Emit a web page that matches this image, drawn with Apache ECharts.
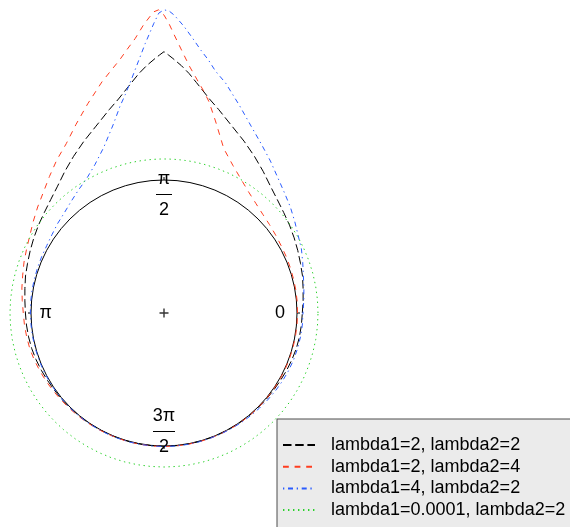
<!DOCTYPE html>
<html>
<head>
<meta charset="utf-8">
<script src="https://cdn.jsdelivr.net/npm/echarts@6/dist/echarts.min.js"></script>
<style>
  html, body { margin: 0; padding: 0; background: #ffffff; }
  #chart { width: 570px; height: 527px; }
</style>
</head>
<body>
<div id="chart"></div>
<script>
// Angles (degrees, counter-clockwise from 0) at which each density is evaluated
const angles = [
  0, 5, 10, 15, 20, 25, 30, 35, 40, 45, 50, 55, 60, 65, 70, 75,
  78, 80, 82, 84, 86, 88, 89, 90, 91, 92, 94, 96, 98, 100, 102,
  105, 110, 115, 120, 125, 130, 135, 140, 145, 150, 155, 160, 165, 170, 175, 180,
  185, 190, 195, 200, 205, 210, 215, 220, 225, 230, 235, 240, 245, 250, 255, 260, 265, 270,
  275, 280, 285, 290, 295, 300, 305, 310, 315, 320, 325, 330, 335, 340, 345, 350, 355, 360
];

// Density values for each parameter pair
const dens_2_2 = [
  0.040, 0.050, 0.062, 0.078, 0.092, 0.110, 0.130, 0.152, 0.175, 0.205, 0.245, 0.300, 0.360, 0.425, 0.495, 0.585,
  0.645, 0.695, 0.750, 0.810, 0.865, 0.915, 0.940, 0.965, 0.940, 0.915, 0.865, 0.810, 0.750, 0.695, 0.645,
  0.585, 0.495, 0.425, 0.360, 0.300, 0.245, 0.205, 0.175, 0.152, 0.130, 0.110, 0.092, 0.078, 0.062, 0.050, 0.042,
  0.038, 0.034, 0.030, 0.024, 0.018, 0.012, 0.008, 0.006, 0.004, 0.003, 0.003, 0.002, 0.002, 0.002, 0.002, 0.002, 0.002, 0.002,
  0.002, 0.002, 0.002, 0.002, 0.002, 0.002, 0.003, 0.003, 0.004, 0.006, 0.008, 0.012, 0.018, 0.024, 0.030, 0.034, 0.037, 0.040
];
const dens_2_4 = [
  0.004, 0.005, 0.006, 0.007, 0.009, 0.012, 0.016, 0.024, 0.035, 0.050, 0.075, 0.110, 0.160, 0.225, 0.315, 0.495,
  0.625, 0.700, 0.775, 0.860, 0.970, 1.100, 1.175, 1.240, 1.280, 1.265, 1.175, 1.075, 1.000, 0.930, 0.875,
  0.800, 0.675, 0.565, 0.470, 0.405, 0.340, 0.283, 0.240, 0.200, 0.165, 0.140, 0.120, 0.100, 0.085, 0.070, 0.058,
  0.053, 0.048, 0.044, 0.037, 0.030, 0.024, 0.018, 0.013, 0.010, 0.008, 0.006, 0.005, 0.004, 0.004, 0.004, 0.004, 0.004, 0.004,
  0.004, 0.004, 0.004, 0.004, 0.004, 0.004, 0.004, 0.004, 0.004, 0.004, 0.004, 0.004, 0.004, 0.004, 0.004, 0.004, 0.004, 0.004
];
const dens_4_2 = [
  0.045, 0.055, 0.068, 0.085, 0.110, 0.140, 0.165, 0.200, 0.240, 0.280, 0.330, 0.395, 0.465, 0.550, 0.660, 0.790,
  0.860, 0.930, 0.995, 1.075, 1.160, 1.240, 1.270, 1.280, 1.255, 1.180, 1.030, 0.890, 0.770, 0.670, 0.590,
  0.470, 0.325, 0.230, 0.165, 0.125, 0.090, 0.062, 0.045, 0.028, 0.017, 0.013, 0.010, 0.008, 0.007, 0.006, 0.005,
  0.004, 0.004, 0.004, 0.004, 0.004, 0.004, 0.004, 0.004, 0.004, 0.004, 0.004, 0.004, 0.004, 0.004, 0.004, 0.004, 0.004, 0.004,
  0.004, 0.004, 0.004, 0.004, 0.005, 0.006, 0.008, 0.010, 0.013, 0.017, 0.022, 0.027, 0.032, 0.036, 0.039, 0.042, 0.044, 0.045
];
const dens_00001_2 = [
  0.158, 0.158, 0.158, 0.158, 0.158, 0.158, 0.158, 0.158, 0.158, 0.158, 0.158, 0.158, 0.158, 0.158, 0.158, 0.158,
  0.158, 0.158, 0.158, 0.158, 0.158, 0.158, 0.158, 0.158, 0.158, 0.158, 0.158, 0.158, 0.158, 0.158, 0.158,
  0.158, 0.158, 0.158, 0.158, 0.158, 0.158, 0.158, 0.158, 0.158, 0.158, 0.158, 0.158, 0.158, 0.158, 0.158, 0.158,
  0.158, 0.158, 0.158, 0.158, 0.158, 0.158, 0.158, 0.158, 0.158, 0.158, 0.158, 0.158, 0.158, 0.158, 0.158, 0.158, 0.158, 0.158,
  0.158, 0.158, 0.158, 0.158, 0.158, 0.158, 0.158, 0.158, 0.158, 0.158, 0.158, 0.158, 0.158, 0.158, 0.158, 0.158, 0.158, 0.158
];

const seriesNames = [
  'lambda1=2, lambda2=2',
  'lambda1=2, lambda2=4',
  'lambda1=4, lambda2=2',
  'lambda1=0.0001, lambda2=2'
];
const seriesValues = [dens_2_2, dens_2_4, dens_4_2, dens_00001_2];
const seriesColors = ['#000000', '#ff3d1f', '#2a5cff', '#2bd12b'];
const seriesDash = [[8.5, 3.7], [5.8, 5.8], [1.3, 3.7, 5, 3.7], [1.4, 3.6]];

// Tick positions on the unit circle and their labels
const tickLabels = {
  0: '{r0|0}',
  90: '{n|π}\n{bar| }\n{d|2}',
  180: '{r180|π}',
  270: '{n|3π}\n{bar2| }\n{d|2}'
};

const center = [164, 313];
const unitRadius = 133;   // pixel radius of the reference circle
const radiusMax = 2.4;    // 1 + density at the outer edge of the curve polar

const chart = echarts.init(document.getElementById('chart'), null, { renderer: 'canvas' });

const curveSeries = seriesNames.map((name, k) => ({
  name: name,
  type: 'line',
  coordinateSystem: 'polar',
  polarIndex: 1,
  symbol: 'none',
  showSymbol: false,
  smooth: false,
  clip: false,
  data: angles.map((a, i) => [1 + seriesValues[k][i], a]),
  lineStyle: { color: seriesColors[k], width: 1, type: seriesDash[k] },
  itemStyle: { color: seriesColors[k] },
  z: 3
}));

chart.setOption({
  animation: false,
  backgroundColor: '#ffffff',
  textStyle: { fontFamily: 'Liberation Sans' },
  polar: [
    { center: center, radius: unitRadius },
    { center: center, radius: unitRadius * radiusMax }
  ],
  angleAxis: [
    {
      polarIndex: 0,
      type: 'value',
      min: 0, max: 360, interval: 90,
      startAngle: 0, clockwise: false,
      axisLine: { show: true, lineStyle: { color: '#000', width: 1 } },
      axisTick: { show: true, length: 3, lineStyle: { color: '#000', width: 1 } },
      splitLine: { show: false },
      axisLabel: {
        show: true,
        margin: -39,
        color: '#000',
        fontSize: 18,
        formatter: v => tickLabels[v] || '',
        rich: {
          r0: { fontSize: 18, padding: [0, 0, 0, 17] },
          r180: { fontSize: 18, padding: [0, 18, 0, 0] },
          n: { fontSize: 18, lineHeight: 18, align: 'center' },
          bar: { width: 16, height: 1, lineHeight: 13, fontSize: 1, backgroundColor: '#000', align: 'center' },
          bar2: { width: 22, height: 1, lineHeight: 13, fontSize: 1, backgroundColor: '#000', align: 'center' },
          d: { fontSize: 18, lineHeight: 18, align: 'center' }
        }
      }
    },
    {
      polarIndex: 1,
      type: 'value',
      min: 0, max: 360,
      startAngle: 0, clockwise: false,
      show: false
    }
  ],
  radiusAxis: [
    { polarIndex: 0, type: 'value', min: 0, max: 1, show: false },
    { polarIndex: 1, type: 'value', min: 0, max: radiusMax, show: false }
  ],
  legend: {
    orient: 'vertical',
    left: 277,
    top: 419,
    height: 200,
    padding: [17, 30, 40, 5],
    backgroundColor: '#ebebeb',
    borderColor: '#4d4d4d',
    borderWidth: 1,
    borderRadius: 0,
    itemWidth: 32,
    itemHeight: 14,
    itemGap: 3.7,
    itemStyle: { opacity: 0 },
    textStyle: { fontSize: 18, lineHeight: 18, color: '#000', fontFamily: 'Liberation Sans', padding: [0, 0, 0, 11] },
    data: seriesNames
  },
  series: curveSeries.concat([{
    name: 'centre',
    type: 'scatter',
    coordinateSystem: 'polar',
    polarIndex: 1,
    symbol: 'path://M0,5H10M5,0V10',
    symbolSize: 9,
    data: [[0, 0]],
    itemStyle: { color: 'none', borderColor: '#000', borderWidth: 1.4 },
    silent: true,
    z: 4
  }])
});
</script>
</body>
</html>
